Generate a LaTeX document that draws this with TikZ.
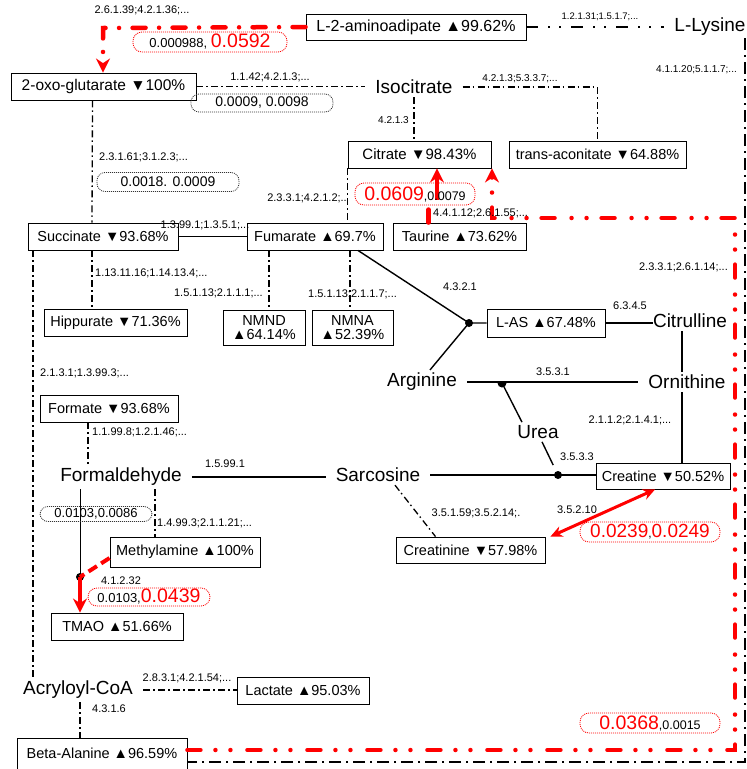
\documentclass[tikz,border=0pt]{standalone}
\usepackage{fontspec}
\setmainfont{Liberation Sans}
\usetikzlibrary{arrows.meta,calc}
\newcommand\myfs[1]{\fontsize{#1}{#1}\selectfont}
\begin{document}
\begin{tikzpicture}[x=1pt,y=-1pt,
  box/.style={draw=black, line width=0.9pt, fill=white, inner sep=0pt, font=\myfs{14.5}},
  big/.style={inner xsep=10pt, inner ysep=3pt, font=\myfs{19}},
  lab/.style={inner sep=0pt, font=\myfs{11}},
  ovg/.style={draw=black!80, line width=0.8pt, dash pattern=on 1pt off 1pt, rounded corners=8pt, inner sep=0pt, font=\myfs{14}},
  ovr/.style={draw=red, line width=0.8pt, dash pattern=on 1pt off 1pt, rounded corners=9pt, inner sep=0pt},
  dd/.style={line width=1.3pt, dash pattern=on 7pt off 3pt on 1.5pt off 3.5pt},
  ddthick/.style={line width=2.5pt, dash pattern=on 12pt off 10pt on 2pt off 9pt on 2pt off 10pt},
  ddside/.style={line width=1.8pt, dash pattern=on 12pt off 5pt on 2pt off 5pt},
  solidone/.style={line width=1.4pt},
  rdd/.style={red, line width=4.5pt, line cap=round, dash pattern=on 13pt off 13.5pt on 0pt off 13.5pt},
  rddd/.style={red, line width=4.5pt, line cap=round, dash pattern=on 13pt off 15pt on 0pt off 15pt on 0pt off 17pt},
  rsolid/.style={red, line width=3.5pt},
  rtip/.style={-{Stealth[length=14pt,width=14pt]}},
]
\useasboundingbox (0,0) rectangle (747,769);

% ---------------- nodes ----------------
\node[box, minimum width=220pt, minimum height=26pt, font=\myfs{16}] (amino) at (416,27) {L-2-aminoadipate ▲99.62\%};
\node[big] (lys) at (710,27) {L-Lysine};
\node[box, minimum width=185pt, minimum height=27pt, font=\myfs{15.5}] (oxo) at (103.5,86.5) {2-oxo-glutarate ▼100\%};
\node[big] (iso) at (414,87) {Isocitrate};
\node[box, minimum width=143pt, minimum height=27pt, font=\myfs{15}] (cit) at (419.5,154.5) {Citrate ▼98.43\%};
\node[box, minimum width=177pt, minimum height=27pt] (trans) at (597.5,154.5) {trans-aconitate ▼64.88\%};
\node[box, minimum width=150pt, minimum height=27pt] (succ) at (103,236.5) {Succinate ▼93.68\%};
\node[box, minimum width=136pt, minimum height=27pt] (fum) at (315,236.5) {Fumarate ▲69.7\%};
\node[box, minimum width=133pt, minimum height=27pt] (tau) at (459.5,236.5) {Taurine ▲73.62\%};
\node[box, minimum width=143pt, minimum height=27pt] (hip) at (115.5,322.5) {Hippurate ▼71.36\%};
\node[box, minimum width=82pt, minimum height=35pt, align=center] (nmnd) at (264,327.5) {NMND\\▲64.14\%};
\node[box, minimum width=81pt, minimum height=35pt, align=center] (nmna) at (352.5,327.5) {NMNA\\▲52.39\%};
\node[box, minimum width=118pt, minimum height=28pt] (las) at (546,323) {L-AS ▲67.48\%};
\node[big] (citr) at (690,321) {Citrulline};
\node[big] (orn) at (687,382) {Ornithine};
\node[big] (arg) at (422,382) {Arginine};
\node[big] (urea) at (538,432) {Urea};
\node[box, minimum width=138pt, minimum height=27pt] (fmt) at (109,408.5) {Formate ▼93.68\%};
\node[big] (fald) at (121,477) {Formaldehyde};
\node[big] (sarc) at (378,475) {Sarcosine};
\node[box, minimum width=134pt, minimum height=26pt] (cre) at (663,476) {Creatine ▼50.52\%};
\node[box, minimum width=149pt, minimum height=26pt] (crn) at (470.5,550) {Creatinine ▼57.98\%};
\node[box, minimum width=150pt, minimum height=30pt] (meth) at (185,552) {Methylamine ▲100\%};
\node[box, minimum width=132pt, minimum height=27pt] (tmao) at (117,626.5) {TMAO ▲51.66\%};
\node[big] (acr) at (78,690) {Acryloyl-CoA};
\node[box, minimum width=132pt, minimum height=27pt] (lac) at (303,690.5) {Lactate ▲95.03\%};
\node[box, minimum width=170pt, minimum height=31pt] (beta) at (102,753.5) {Beta-Alanine ▲96.59\%};

% ---------------- coordinates ----------------
\coordinate (lt) at (745,38);
\coordinate (lr) at (745,762);
\coordinate (j1) at (469,323);
\coordinate (j2) at (502,383);
\coordinate (j3) at (558,475);
\coordinate (j4) at (80,577);
\coordinate (rb) at (735,750);
\coordinate (rt) at (735,218);
\coordinate (rc) at (492,218);
\coordinate (rl) at (103,28);
\coordinate (tc) at (437,200);

% ---------------- black connectors ----------------
\draw[ddthick] (amino.east) -- (lys.west);
\draw[ddside] (lt) -- (lr) -- (beta.east |- lr);
\draw[dd] (oxo.east) -- (iso.west |- oxo.east);
\draw[dd] ([xshift=-11pt]oxo.south) -- ([xshift=-11pt]succ.north);
\draw[dd] (iso.east) -| (trans.north);
\draw[dd] (iso.south) -- (iso.south |- cit.north);
\draw[dd] (cit.south west) -- (cit.south west |- fum.north);
\draw[solidone] (succ.east) -- (fum.west);
\draw[dd] ([xshift=-11pt]succ.south) -- ([xshift=-11pt]succ.south |- hip.north);
\draw[dd] ([xshift=-46pt]fum.south) -- ([xshift=-46pt]fum.south |- nmnd.north);
\draw[dd] ([xshift=35pt]fum.south) -- ([xshift=35pt]fum.south |- nmna.north);
\draw[solidone] ([xshift=43pt]fum.south) -- (j1) -- (las.west);
\draw[solidone] ([xshift=8pt]arg.north) -- (j1);
\fill (j1) circle[radius=4];
\draw[solidone] (las.east) -- ([xshift=10pt]citr.west |- las.east);
\draw[solidone] ([xshift=-5pt]orn.north |- citr.south) -- ([xshift=-5pt]orn.north);
\draw[solidone] (arg.east) -- (orn.west);
\fill ([xshift=-4.5pt]j2) arc[start angle=180, end angle=0, radius=4.5] -- cycle;
\draw[solidone] ([xshift=-16pt]urea.north) -- (j2);
\draw[solidone] ([xshift=-5pt]orn.south) -- ([xshift=-5pt]orn.south |- cre.north);
\draw[solidone] (sarc.east) -- (cre.west |- sarc.east);
\fill (j3) circle[radius=4];
\draw[solidone] ([xshift=4pt]urea.south) -- ($([xshift=4pt]urea.south)!0.7!(j3)$);
\draw[solidone] (fald.east) -- (sarc.west |- fald.east);
\draw[dd] ([xshift=17pt]sarc.south) -- ([xshift=-35pt]crn.north);
\draw[dd] ([xshift=-21pt]fmt.south) -- ([xshift=-21pt]fmt.south |- fald.north);
\draw[dd] ([xshift=-70pt]succ.south) -- ([xshift=-70pt]succ.south |- acr.north);
\draw[dd] ([xshift=34pt]fald.south) -- ([xshift=34pt]fald.south |- meth.north);
\draw[line width=1pt] ([xshift=-41pt]fald.south) -- (j4);
\fill (j4) circle[radius=4];
\draw[dd] (acr.east) -- (lac.west |- acr.east);
\draw[dd] ([xshift=2pt]acr.south) -- ([xshift=2pt]acr.south |- beta.north);

% ---------------- red connectors ----------------
\draw[rddd, rtip] (beta.east |- rb) -- (rb) -- (rt) -- (rc) -- (rc |- cit.south);
\draw[rdd, rtip] (amino.west) -- (rl) -- (oxo.north -| rl);
\draw[rddd] ([xshift=-31pt]tau.north) -- ([xshift=-31pt]tau.north |- tc);
\draw[rsolid, rtip] (tc) -- (tc |- cit.south);
\draw[red, line width=3pt, {Stealth[length=12pt,width=11pt]}-{Stealth[length=12pt,width=11pt]}] ([xshift=-8pt]cre.south) -- ([xshift=5pt]crn.north east);
\draw[red, line width=4pt, dash pattern=on 10pt off 5pt] ([yshift=-6pt]meth.west) -- (j4);
\draw[rsolid, rtip] (j4) -- (j4 |- tmao.north);

% ---------------- enzyme labels ----------------
\node[lab] (e1) at (142,10) {2.6.1.39;4.2.1.36;...};
\node[lab, font=\myfs{9.5}] (e2) at (600,17) {1.2.1.31;1.5.1.7;...};
\node[lab, font=\myfs{10}, anchor=east] (e3) at (737,70) {4.1.1.20;5.1.1.7;...};
\node[lab] (e4) at (270,77) {1.1.42;4.2.1.3;...};
\node[lab, font=\myfs{10}] (e5) at (520,79) {4.2.1.3;5.3.3.7;...};
\node[lab, font=\myfs{10}, anchor=east] (e6) at (409,120) {4.2.1.3};
\node[lab, anchor=west] (e7) at (99,157) {2.3.1.61;3.1.2.3;...};
\node[lab, anchor=east] (e8) at (347,198) {2.3.3.1;4.2.1.2;..};
\node[lab, anchor=west] (e9) at (433,213) {4.4.1.12;2.6.1.55;...};
\node[lab] (e10) at (205,225) {1.3.99.1;1.3.5.1;...};
\node[lab, anchor=west] (e11) at (95,273) {1.13.11.16;1.14.13.4;...};
\node[lab, anchor=east] (e12) at (263,293) {1.5.1.13;2.1.1.1;...};
\node[lab, anchor=west] (e13) at (308,294) {1.5.1.13;2.1.1.7;...};
\node[lab] (e14) at (460,287) {4.3.2.1};
\node[lab] (e15) at (630,306) {6.3.4.5};
\node[lab, anchor=east] (e16) at (728,267) {2.3.3.1;2.6.1.14;...};
\node[lab] (e17) at (553,372) {3.5.3.1};
\node[lab, anchor=west] (e18) at (40,373) {2.1.3.1;1.3.99.3;...};
\node[lab] (e19) at (630,420) {2.1.1.2;2.1.4.1;...};
\node[lab, anchor=west] (e20) at (92,432) {1.1.99.8;1.2.1.46;...};
\node[lab] (e21) at (577,457) {3.5.3.3};
\node[lab] (e22) at (225,464) {1.5.99.1};
\node[lab] (e23) at (476,513) {3.5.1.59;3.5.2.14;.};
\node[lab] (e24) at (577,510) {3.5.2.10};
\node[lab, anchor=west] (e25) at (157,523) {1.4.99.3;2.1.1.21;...};
\node[lab] (e26) at (121,581) {4.1.2.32};
\node[lab] (e27) at (187,678) {2.8.3.1;4.2.1.54;...};
\node[lab] (e28) at (109,709) {4.3.1.6};

% ---------------- value ovals ----------------
\node[ovr, minimum width=154pt, minimum height=20pt] (o1) at (210,42) {\myfs{13}0.000988, \textcolor{red}{\myfs{19.5}0.0592}};
\node[ovg, minimum width=142pt, minimum height=18pt] (o2) at (262,103) {0.0009, 0.0098};
\node[ovg, minimum width=142pt, minimum height=19pt] (o3) at (168,182) {0.0018. 0.0009};
\node[ovr, minimum width=120pt, minimum height=22pt] (o4) at (415,194) {\textcolor{red}{\myfs{19.5}0.0609}\myfs{12.5},0.0079};
\node[ovr, minimum width=140pt, minimum height=20pt] (o5) at (650,532) {\textcolor{red}{\myfs{19}0.0239}\myfs{12},\textcolor{red}{\myfs{19}0.0249}};
\node[ovg, minimum width=112pt, minimum height=15pt, font=\myfs{13}] (o6) at (96,514) {0.0103,0.0086};
\node[ovr, minimum width=122pt, minimum height=18pt] (o7) at (149,597) {\myfs{13}0.0103,\textcolor{red}{\myfs{19.5}0.0439}};
\node[ovr, minimum width=140pt, minimum height=20pt] (o8) at (650,723) {\textcolor{red}{\myfs{19.5}0.0368}\myfs{12.5},0.0015};
\end{tikzpicture}
\end{document}
